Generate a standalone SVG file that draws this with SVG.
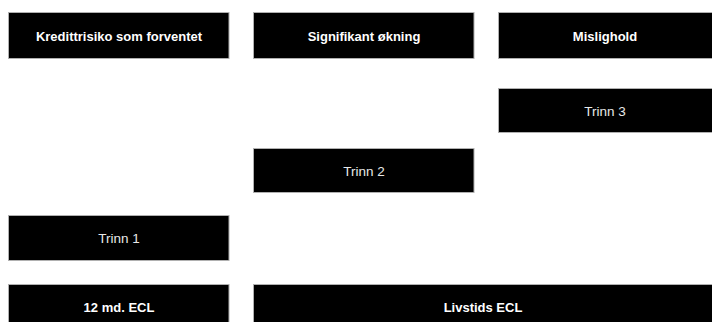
<svg xmlns="http://www.w3.org/2000/svg" width="712" height="322" viewBox="0 0 712 322">
<style>
.box{fill:#000;stroke:#b0b0b0;stroke-width:1}
.t{font-family:"Liberation Sans",Arial,sans-serif;font-size:13px;fill:#fff;text-anchor:middle;dominant-baseline:central}
.b{font-weight:bold}
.r{fill:#e8e8e8;font-size:13.5px}
</style>
<rect width="712" height="322" fill="#fff"/>
<g id="n-kreditt"><rect class="box" x="8.5" y="12.5" width="220.5" height="46"/><text class="t b" x="119" y="36">Kredittrisiko som forventet</text></g>
<g id="n-signifikant"><rect class="box" x="253.5" y="12.5" width="220.5" height="46"/><text class="t b" x="364" y="36">Signifikant økning</text></g>
<g id="n-mislighold"><rect class="box" x="498.5" y="12.5" width="215" height="46"/><text class="t b" x="605" y="36">Mislighold</text></g>
<g id="n-trinn3"><rect class="box" x="498.5" y="88.5" width="215" height="44"/><text class="t r" x="605" y="111">Trinn 3</text></g>
<g id="n-trinn2"><rect class="box" x="253.5" y="148.5" width="220.5" height="44"/><text class="t r" x="364" y="171">Trinn 2</text></g>
<g id="n-trinn1"><rect class="box" x="8.5" y="215.5" width="220.5" height="45"/><text class="t r" x="119" y="238">Trinn 1</text></g>
<g id="n-12md"><rect class="box" x="8.5" y="284.5" width="220.5" height="46"/><text class="t b" x="119" y="307">12 md. ECL</text></g>
<g id="n-livstids"><rect class="box" x="253.5" y="284.5" width="460" height="46"/><text class="t b" x="483" y="307">Livstids ECL</text></g>
<g id="connectors"></g>
</svg>
